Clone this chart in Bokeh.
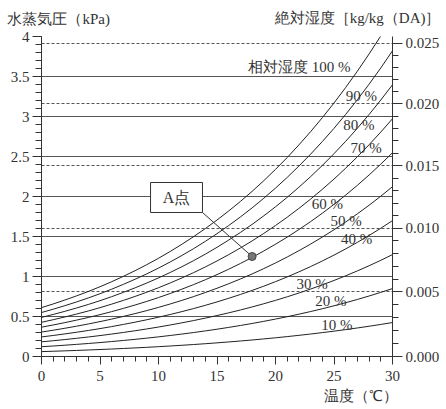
from bokeh.plotting import figure
from bokeh.models import (Range1d, LinearAxis, FixedTicker, CustomJSTickFormatter,
                          Grid, Label, BoxAnnotation)
from bokeh.embed import file_html
from bokeh.resources import INLINE

# ---- data ----
temps = list(range(31))  # °C
psat = [0.611, 0.657, 0.706, 0.758, 0.813, 0.872, 0.935, 1.002, 1.073, 1.148,
        1.228, 1.313, 1.403, 1.498, 1.599, 1.706, 1.819, 1.938, 2.064, 2.198,
        2.339, 2.487, 2.645, 2.810, 2.985, 3.169, 3.363, 3.567, 3.782, 4.008, 4.246]
rh_levels = [10, 20, 30, 40, 50, 60, 70, 80, 90, 100]
x_ticks = [0, 5, 10, 15, 20, 25, 30]
y_ticks = [0, 0.5, 1, 1.5, 2, 2.5, 3, 3.5, 4]
y_tick_labels = ["0", "0.5", "1", "1.5", "2", "2.5", "3", "3.5", "4"]
ah_ticks = [0.000, 0.005, 0.010, 0.015, 0.020, 0.025]
ah_tick_labels = ["0.000", "0.005", "0.010", "0.015", "0.020", "0.025"]
a_temp = [18.0]
a_pressure = [1.25]

P_ATM = 101.325
def ah_to_kpa(w):
    return w * P_ATM / (0.622 + w)

NUM_FONT = "Liberation Serif"
TXT = "#333333"
GRID = "#555555"

p = figure(width=446, height=409, output_backend="svg", toolbar_location=None,
           x_range=Range1d(0, 30), y_range=Range1d(0, 4))
p.min_border_left = 41
p.min_border_right = 54
p.min_border_top = 36
p.min_border_bottom = 53
p.outline_line_color = None
p.background_fill_color = "white"
p.border_fill_color = "white"
p.xgrid.visible = False
p.ygrid.ticker = FixedTicker(ticks=y_ticks)
p.ygrid.grid_line_color = GRID
p.ygrid.grid_line_width = 1

# dashed lines at absolute humidity levels
ah_major_kpa = [ah_to_kpa(w) for w in ah_ticks]
dash_grid = Grid(dimension=1, ticker=FixedTicker(ticks=ah_major_kpa[1:]),
                 grid_line_color=GRID, grid_line_dash="3 2", grid_line_width=1)
p.add_layout(dash_grid)

# axes styling
def style_axis(ax, major_out, minor_out, standoff):
    ax.axis_line_color = TXT
    ax.major_tick_line_color = TXT
    ax.minor_tick_line_color = TXT
    ax.major_tick_in = 0
    ax.minor_tick_in = 0
    ax.major_tick_out = major_out
    ax.minor_tick_out = minor_out
    ax.major_label_standoff = standoff
    ax.major_label_text_font = NUM_FONT
    ax.major_label_text_font_size = "15px"
    ax.major_label_text_color = TXT

xa = p.xaxis[0]
xa.ticker = FixedTicker(ticks=x_ticks, minor_ticks=temps)
style_axis(xa, 8, 5, 6)

ya = p.yaxis[0]
ya.ticker = FixedTicker(ticks=y_ticks, minor_ticks=[i / 10 for i in range(41)])
ya.formatter = CustomJSTickFormatter(args=dict(labels=y_tick_labels), code="return labels[index];")
style_axis(ya, 9, 6, 3)

ah_minor_kpa = [ah_to_kpa(i / 1000) for i in range(26)]
ra = LinearAxis(ticker=FixedTicker(ticks=ah_major_kpa, minor_ticks=ah_minor_kpa),
                formatter=CustomJSTickFormatter(args=dict(labels=ah_tick_labels),
                                                code="return labels[index];"))
style_axis(ra, 10, 6, 3)
p.add_layout(ra, "right")

# RH curves
for rh in rh_levels:
    vals = [v * rh / 100 for v in psat]
    p.line(temps, vals, line_color="#222222", line_width=1)

# A point leader, box and dot
box_l, box_r, box_b, box_t = 9.32, 13.76, 1.80, 2.175
p.line([box_r, a_temp[0]], [box_b, a_pressure[0]], line_color="#333333", line_width=1)
p.add_layout(BoxAnnotation(left=box_l, right=box_r, bottom=box_b, top=box_t,
                           fill_color="white", fill_alpha=1, line_color="#333333",
                           line_alpha=1, line_width=1))
p.add_layout(Label(x=(box_l + box_r) / 2, y=(box_b + box_t) / 2, text="A点",
                   text_font=NUM_FONT, text_font_size="16px", text_color=TXT,
                   text_align="center", text_baseline="middle"))
p.scatter(a_temp, a_pressure, size=8, fill_color="#777777", line_color="#444444")

# RH labels
label_specs = [
    ("相対湿度 100 %", 26.4, 3.62, "right"),
    ("90 %", 26.0, 3.26, "left"),
    ("80 %", 25.8, 2.89, "left"),
    ("70 %", 26.4, 2.61, "left"),
    ("60 %", 23.1, 1.91, "left"),
    ("50 %", 24.7, 1.70, "left"),
    ("40 %", 25.6, 1.475, "left"),
    ("30 %", 21.8, 0.91, "left"),
    ("20 %", 23.4, 0.69, "left"),
    ("10 %", 23.9, 0.39, "left"),
]
for txt, lx, ly, al in label_specs:
    p.add_layout(Label(x=lx, y=ly, text=txt, text_font=NUM_FONT, text_font_size="15px",
                       text_color=TXT, text_align=al, text_baseline="middle"))

# axis titles (placed in side panels, data coordinates)
p.add_layout(Label(x=-2.906, y=4.219, text="水蒸気圧（kPa)", text_font=NUM_FONT,
                   text_font_size="15px", text_color=TXT, text_align="left",
                   text_baseline="middle"), "above")
p.add_layout(Label(x=34.10, y=4.2375, text="絶対湿度［kg/kg（DA)］", text_font=NUM_FONT,
                   text_font_size="15px", text_color=TXT, text_align="right",
                   text_baseline="middle"), "above")
p.add_layout(Label(x=30.51, y=-0.4875, text="温度（℃）", text_font=NUM_FONT,
                   text_font_size="15px", text_color=TXT, text_align="right",
                   text_baseline="middle"), "below")

open("out.html", "w").write(file_html(p, INLINE))
